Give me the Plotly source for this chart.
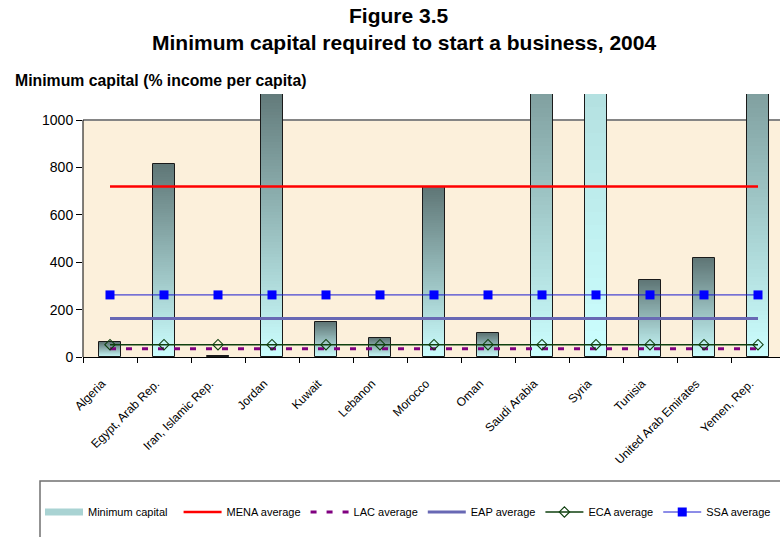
import plotly.graph_objects as go

# ---- data ----
countries = [
    "Algeria", "Egypt, Arab Rep.", "Iran, Islamic Rep.", "Jordan", "Kuwait",
    "Lebanon", "Morocco", "Oman", "Saudi Arabia", "Syria", "Tunisia",
    "United Arab Emirates", "Yemen, Rep.",
]
min_capital = [63, 816, 5, 1150, 148, 81, 718, 100, 1600, 5000, 325, 416, 1600]

mena_average = 720
lac_average = 35
eap_average = 163
eca_average = 52
ssa_average = 262

y_ticks = [0, 200, 400, 600, 800, 1000]

# ---- geometry ----
W, H = 780, 537
ML, MT, MR = 83, 94, 0
PLOT_BOTTOM = 357
MB = H - PLOT_BOTTOM
PW = W - ML - MR
PH = PLOT_BOTTOM - MT
Y_TOP = 1110          # axis headroom so tall bars poke above the frame
FRAME_TOP = 1000
CAT_PX = 54.0


def px_x(px):
    return (px - ML) / PW


def px_y(py):
    return (PLOT_BOTTOM - py) / PH


FONT = "Liberation Sans, Arial, sans-serif"

fig = go.Figure()

# legend-only entry for the bars
fig.add_trace(go.Scatter(
    x=[None], y=[None], mode="lines", name="Minimum capital\u00a0\u00a0",
    line=dict(color="#a9d3d3", width=7), hoverinfo="skip",
))

# bars: vertical gradient built from stacked slices of each bar
light = (204, 255, 255)
dark = (95, 118, 118)
K = 90
for i in range(K):
    f = (i + 0.5) / K
    c = tuple(round(light[j] + (dark[j] - light[j]) * f) for j in range(3))
    fig.add_trace(go.Bar(
        x=countries,
        y=[v / K for v in min_capital],
        base=[v * i / K for v in min_capital],
        width=0.4,
        marker=dict(color="rgb(%d,%d,%d)" % c, line=dict(width=0)),
        showlegend=False, hoverinfo="skip",
    ))

# bar outlines
fig.add_trace(go.Bar(
    x=countries, y=min_capital, width=0.4,
    marker=dict(color="rgba(0,0,0,0)", line=dict(color="#1a1a1a", width=1)),
    showlegend=False, hoverinfo="skip",
))

n = len(countries)
fig.add_trace(go.Scatter(
    x=countries, y=[mena_average] * n, mode="lines", name="MENA average",
    line=dict(color="#ff0000", width=2.5),
))
fig.add_trace(go.Scatter(
    x=countries, y=[lac_average] * n, mode="lines", name="LAC average",
    line=dict(color="#800080", width=3, dash="6px,10px"),
))
fig.add_trace(go.Scatter(
    x=countries, y=[eap_average] * n, mode="lines", name="EAP average",
    line=dict(color="#6868b4", width=3),
))
fig.add_trace(go.Scatter(
    x=countries, y=[eca_average] * n, mode="lines+markers", name="ECA average",
    line=dict(color="#0f400f", width=1.6),
    marker=dict(symbol="diamond-open", size=8, color="#0f400f",
                line=dict(width=1.1, color="#0f400f")),
))
fig.add_trace(go.Scatter(
    x=countries, y=[ssa_average] * n, mode="lines+markers", name="SSA average",
    line=dict(color="#1a1ad0", width=1),
    marker=dict(symbol="square", size=9, color="#0000ff"),
))

shapes = [
    # plot background (frame up to 1000)
    dict(type="rect", xref="paper", yref="y", x0=0, x1=1, y0=0, y1=FRAME_TOP,
         fillcolor="#fcf0db", line=dict(width=0), layer="below"),
    # top frame line
    dict(type="line", xref="paper", yref="y", x0=0, x1=1, y0=FRAME_TOP, y1=FRAME_TOP,
         line=dict(color="#858585", width=2), layer="below"),
    # value axis line
    dict(type="line", xref="paper", yref="y", x0=0, x1=0, y0=0, y1=FRAME_TOP,
         line=dict(color="#000000", width=1), layer="above"),
    # legend box
    dict(type="rect", xref="paper", yref="paper",
         x0=px_x(40), x1=px_x(820), y0=px_y(580), y1=px_y(481),
         line=dict(color="#707070", width=1.5), fillcolor="rgba(0,0,0,0)"),
]

annotations = [
    dict(text="<b>Figure 3.5</b>", xref="paper", yref="paper",
         x=px_x(399), y=px_y(15), xanchor="center", yanchor="middle",
         showarrow=False, font=dict(family=FONT, size=21, color="#000")),
    dict(text="<b>Minimum capital required to start a business, 2004</b>",
         xref="paper", yref="paper", x=px_x(404), y=px_y(42),
         xanchor="center", yanchor="middle", showarrow=False,
         font=dict(family=FONT, size=21, color="#000")),
    dict(text="<b>Minimum capital (% income per capita)</b>", xref="paper",
         yref="paper", x=px_x(13), y=px_y(80), xanchor="left", yanchor="middle",
         showarrow=False, font=dict(family=FONT, size=15.8, color="#000")),
]

fig.update_layout(
    width=W, height=H,
    margin=dict(l=ML, r=MR, t=MT, b=MB, pad=0),
    paper_bgcolor="#ffffff", plot_bgcolor="#ffffff",
    barmode="overlay", bargap=0,
    font=dict(family=FONT, size=11, color="#000"),
    shapes=shapes, annotations=annotations,
    hovermode=False,
    legend=dict(
        orientation="h", x=px_x(40), xanchor="left", y=px_y(512),
        yanchor="middle", bgcolor="rgba(0,0,0,0)", borderwidth=0,
        font=dict(family=FONT, size=11, color="#000"), itemwidth=38,
        traceorder="normal",
    ),
    xaxis=dict(
        type="category", range=[-0.5, -0.5 + PW / CAT_PX],
        showline=True, linecolor="#000", linewidth=1, mirror=False,
        ticks="outside", tickson="boundaries", ticklen=5, tickcolor="#000",
        tickangle=-45, tickfont=dict(family=FONT, size=12, color="#000"),
        ticklabelstandoff=14, ticklabelshift=-8,
        showgrid=False, zeroline=False, fixedrange=True,
    ),
    yaxis=dict(
        range=[0, Y_TOP], tickvals=y_ticks, ticktext=[str(t) for t in y_ticks],
        ticks="outside", ticklen=6, tickcolor="#000",
        tickfont=dict(family=FONT, size=14, color="#000"),
        showline=False, showgrid=False, zeroline=False, fixedrange=True,
    ),
)

fig.write_html("out.html", config={"displayModeBar": False})
